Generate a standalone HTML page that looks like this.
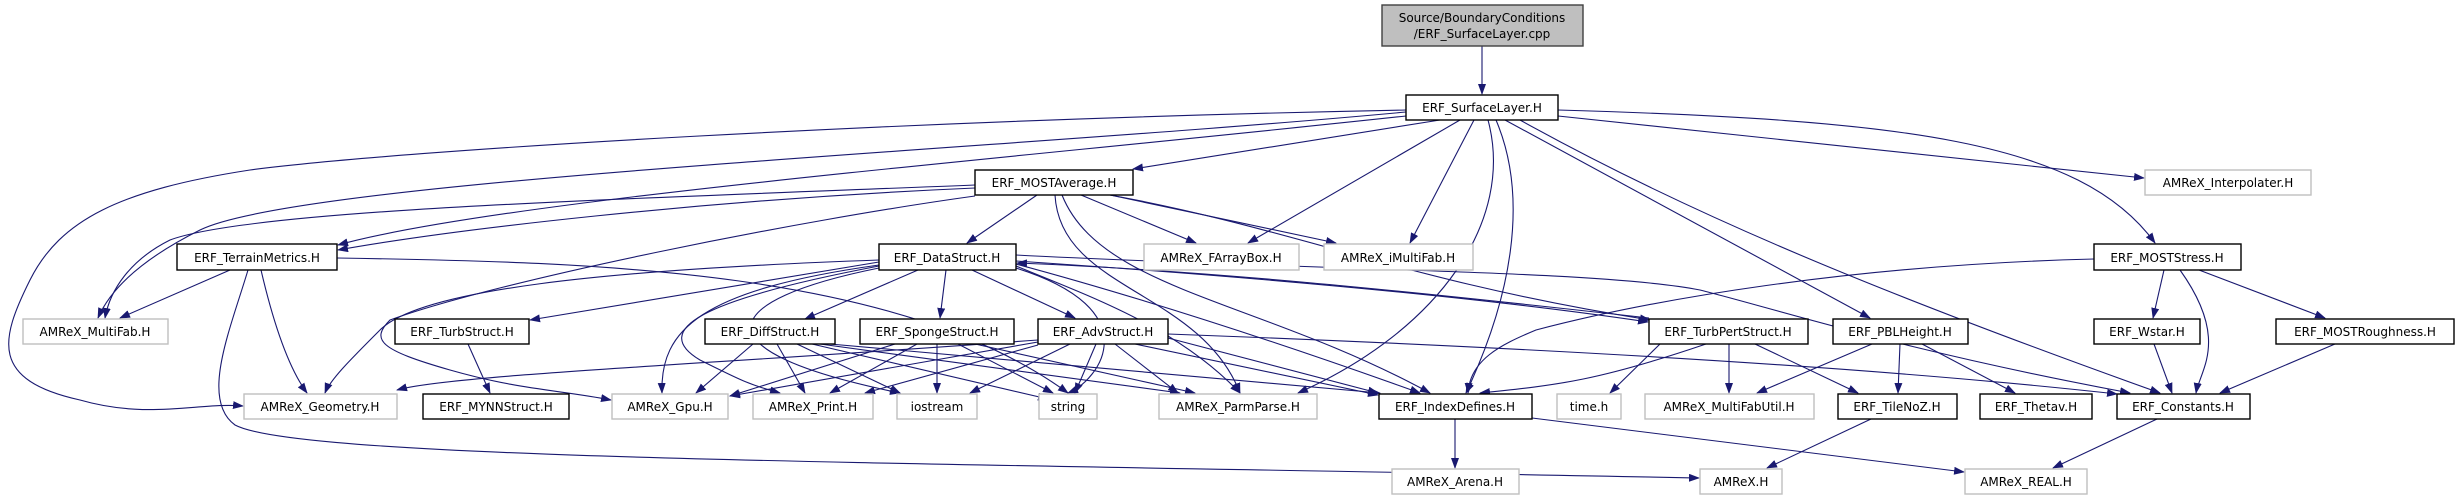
<!DOCTYPE html>
<html><head><meta charset="utf-8"><style>
html,body{margin:0;padding:0;background:#fff;}
svg{display:block;}
text{font-family:"DejaVu Sans","Liberation Sans",sans-serif;font-size:12px;fill:#000;}
.e{fill:none;stroke:#191970;stroke-width:1.1;marker-end:url(#a);}
.b{fill:#fff;stroke:#000;stroke-width:1.4;}
.g{fill:#fff;stroke:#bfbfbf;stroke-width:1.4;}
</style></head><body>
<svg width="2458" height="500" viewBox="0 0 2458 500" xmlns="http://www.w3.org/2000/svg">
<defs><marker id="a" markerWidth="11" markerHeight="8" refX="10" refY="4" orient="auto" markerUnits="userSpaceOnUse"><path d="M0,0 L11,4 L0,8 z" fill="#191970"/></marker></defs>
<path class="e" d="M1482,46 L1482,94"/>
<path class="e" d="M1440,120 L1133,169"/>
<path class="e" d="M1406,116 C1000,160 500,200 338,245"/>
<path class="e" d="M1406,112 C1000,150 300,180 200,230 C140,260 110,290 98,318"/>
<path class="e" d="M1406,110 C900,120 400,150 250,170 C120,190 60,220 30,280 C0,340 -10,380 80,400 C150,420 200,402 243,406"/>
<path class="e" d="M1460,120 L1248,243"/>
<path class="e" d="M1474,120 L1410,243"/>
<path class="e" d="M1488,120 C1515,220 1440,330 1298,393"/>
<path class="e" d="M1496,120 C1530,200 1510,300 1466,393"/>
<path class="e" d="M1505,120 L1870,318"/>
<path class="e" d="M1520,120 C1700,220 1900,300 2160,393"/>
<path class="e" d="M1558,110 C1900,120 2080,140 2155,243"/>
<path class="e" d="M1558,116 L2144,178"/>
<path class="e" d="M1037,195 L967,243"/>
<path class="e" d="M1081,195 L1196,243"/>
<path class="e" d="M1110,195 L1336,243"/>
<path class="e" d="M975,188 C700,200 450,230 338,250"/>
<path class="e" d="M975,185 C600,200 250,210 170,240 C130,260 110,290 105,318"/>
<path class="e" d="M975,196 C800,220 500,280 390,320 C370,340 380,350 450,370 C520,390 560,390 611,400"/>
<path class="e" d="M1055,195 C1060,290 1200,290 1240,393"/>
<path class="e" d="M1062,195 C1100,290 1260,300 1430,393"/>
<path class="e" d="M1110,195 C1300,230 1400,280 1650,320"/>
<path class="e" d="M230,270 L120,318"/>
<path class="e" d="M261,270 C275,330 290,370 307,393"/>
<path class="e" d="M248,270 C230,330 200,400 235,425 C300,460 900,462 1699,478"/>
<path class="e" d="M337,258 C600,262 900,270 1068,393"/>
<path class="e" d="M879,262 L530,320"/>
<path class="e" d="M918,270 L805,319"/>
<path class="e" d="M946,270 L940,318"/>
<path class="e" d="M972,270 L1075,318"/>
<path class="e" d="M879,260 C600,270 420,290 380,330 C350,360 330,380 325,393"/>
<path class="e" d="M879,265 C700,290 660,330 662,393"/>
<path class="e" d="M879,266 C700,300 650,330 700,360 C740,380 750,385 780,393"/>
<path class="e" d="M879,268 C720,300 690,350 900,393"/>
<path class="e" d="M1016,268 C1150,310 1100,380 1068,393"/>
<path class="e" d="M1016,266 C1100,300 1180,330 1240,393"/>
<path class="e" d="M1016,264 C1150,300 1300,350 1420,393"/>
<path class="e" d="M1016,261 C1300,280 1500,300 1648,322"/>
<path class="e" d="M1649,318 C1400,290 1200,270 1017,263"/>
<path class="e" d="M1016,255 C1300,270 1600,270 1700,290 C1780,310 1900,350 2130,393"/>
<path class="e" d="M753,344 L696,393"/>
<path class="e" d="M777,344 L805,393"/>
<path class="e" d="M797,344 L900,393"/>
<path class="e" d="M812,344 L1048,399"/>
<path class="e" d="M820,344 L1180,393"/>
<path class="e" d="M830,344 L1380,393"/>
<path class="e" d="M895,344 L730,396"/>
<path class="e" d="M917,344 L830,393"/>
<path class="e" d="M937,344 L937,393"/>
<path class="e" d="M958,344 L1053,393"/>
<path class="e" d="M975,344 L1195,393"/>
<path class="e" d="M1038,340 C700,365 450,375 397,390"/>
<path class="e" d="M1038,342 L730,396"/>
<path class="e" d="M1038,345 L865,393"/>
<path class="e" d="M1070,344 L970,393"/>
<path class="e" d="M1096,344 L1075,393"/>
<path class="e" d="M1115,344 L1178,393"/>
<path class="e" d="M1135,344 L1378,395"/>
<path class="e" d="M1168,334 C1600,350 1900,370 2117,394"/>
<path class="e" d="M1168,338 L1378,393"/>
<path class="e" d="M468,344 L490,393"/>
<path class="e" d="M1455,419 L1455,468"/>
<path class="e" d="M1532,418 L1964,472"/>
<path class="e" d="M1706,344 C1600,380 1560,385 1480,393"/>
<path class="e" d="M1729,344 L1729,393"/>
<path class="e" d="M1755,344 L1858,393"/>
<path class="e" d="M1660,344 L1610,393"/>
<path class="e" d="M1872,344 L1757,393"/>
<path class="e" d="M1900,344 L1898,393"/>
<path class="e" d="M1922,344 L2015,393"/>
<path class="e" d="M2094,259 C1850,265 1650,300 1536,330 C1500,345 1470,360 1468,393"/>
<path class="e" d="M2164,270 L2153,318"/>
<path class="e" d="M2180,270 C2230,340 2200,370 2196,393"/>
<path class="e" d="M2199,270 L2325,318"/>
<path class="e" d="M2154,344 L2172,393"/>
<path class="e" d="M2335,344 L2220,393"/>
<path class="e" d="M2157,419 L2053,468"/>
<path class="e" d="M1871,419 L1767,468"/>
<rect x="1382" y="5" width="201" height="41" fill="#bfbfbf" stroke="#404040" stroke-width="1.4"/>
<text x="1482" y="22" text-anchor="middle">Source/BoundaryConditions</text>
<text x="1482" y="38" text-anchor="middle">/ERF_SurfaceLayer.cpp</text>
<rect class="b" x="1406" y="95" width="152" height="25"/><text x="1482" y="112" text-anchor="middle">ERF_SurfaceLayer.H</text>
<rect class="b" x="975" y="170" width="158" height="25"/><text x="1054" y="187" text-anchor="middle">ERF_MOSTAverage.H</text>
<rect class="g" x="2145" y="170" width="166" height="25"/><text x="2228" y="187" text-anchor="middle">AMReX_Interpolater.H</text>
<rect class="b" x="177" y="244" width="160" height="26"/><text x="257" y="262" text-anchor="middle">ERF_TerrainMetrics.H</text>
<rect class="b" x="879" y="244" width="137" height="26"/><text x="947" y="262" text-anchor="middle">ERF_DataStruct.H</text>
<rect class="g" x="1144" y="244" width="155" height="26"/><text x="1221" y="262" text-anchor="middle">AMReX_FArrayBox.H</text>
<rect class="g" x="1324" y="244" width="149" height="26"/><text x="1398" y="262" text-anchor="middle">AMReX_iMultiFab.H</text>
<rect class="b" x="2094" y="244" width="147" height="26"/><text x="2167" y="262" text-anchor="middle">ERF_MOSTStress.H</text>
<rect class="g" x="23" y="319" width="145" height="25"/><text x="95" y="336" text-anchor="middle">AMReX_MultiFab.H</text>
<rect class="b" x="395" y="319" width="134" height="25"/><text x="462" y="336" text-anchor="middle">ERF_TurbStruct.H</text>
<rect class="b" x="705" y="319" width="130" height="25"/><text x="770" y="336" text-anchor="middle">ERF_DiffStruct.H</text>
<rect class="b" x="860" y="319" width="154" height="25"/><text x="937" y="336" text-anchor="middle">ERF_SpongeStruct.H</text>
<rect class="b" x="1038" y="319" width="130" height="25"/><text x="1103" y="336" text-anchor="middle">ERF_AdvStruct.H</text>
<rect class="b" x="1649" y="319" width="159" height="25"/><text x="1728" y="336" text-anchor="middle">ERF_TurbPertStruct.H</text>
<rect class="b" x="1833" y="319" width="135" height="25"/><text x="1900" y="336" text-anchor="middle">ERF_PBLHeight.H</text>
<rect class="b" x="2094" y="319" width="106" height="25"/><text x="2147" y="336" text-anchor="middle">ERF_Wstar.H</text>
<rect class="b" x="2276" y="319" width="178" height="25"/><text x="2365" y="336" text-anchor="middle">ERF_MOSTRoughness.H</text>
<rect class="g" x="244" y="394" width="153" height="25"/><text x="320" y="411" text-anchor="middle">AMReX_Geometry.H</text>
<rect class="b" x="423" y="394" width="146" height="25"/><text x="496" y="411" text-anchor="middle">ERF_MYNNStruct.H</text>
<rect class="g" x="612" y="394" width="116" height="25"/><text x="670" y="411" text-anchor="middle">AMReX_Gpu.H</text>
<rect class="g" x="753" y="394" width="120" height="25"/><text x="813" y="411" text-anchor="middle">AMReX_Print.H</text>
<rect class="g" x="897" y="394" width="80" height="25"/><text x="937" y="411" text-anchor="middle">iostream</text>
<rect class="g" x="1039" y="394" width="58" height="25"/><text x="1068" y="411" text-anchor="middle">string</text>
<rect class="g" x="1159" y="394" width="158" height="25"/><text x="1238" y="411" text-anchor="middle">AMReX_ParmParse.H</text>
<rect class="b" x="1379" y="394" width="153" height="25"/><text x="1455" y="411" text-anchor="middle">ERF_IndexDefines.H</text>
<rect class="g" x="1557" y="394" width="64" height="25"/><text x="1589" y="411" text-anchor="middle">time.h</text>
<rect class="g" x="1645" y="394" width="169" height="25"/><text x="1729" y="411" text-anchor="middle">AMReX_MultiFabUtil.H</text>
<rect class="b" x="1838" y="394" width="119" height="25"/><text x="1897" y="411" text-anchor="middle">ERF_TileNoZ.H</text>
<rect class="b" x="1980" y="394" width="112" height="25"/><text x="2036" y="411" text-anchor="middle">ERF_Thetav.H</text>
<rect class="b" x="2117" y="394" width="133" height="25"/><text x="2183" y="411" text-anchor="middle">ERF_Constants.H</text>
<rect class="g" x="1392" y="469" width="127" height="25"/><text x="1455" y="486" text-anchor="middle">AMReX_Arena.H</text>
<rect class="g" x="1700" y="469" width="82" height="25"/><text x="1741" y="486" text-anchor="middle">AMReX.H</text>
<rect class="g" x="1965" y="469" width="122" height="25"/><text x="2026" y="486" text-anchor="middle">AMReX_REAL.H</text>
</svg>
</body></html>
